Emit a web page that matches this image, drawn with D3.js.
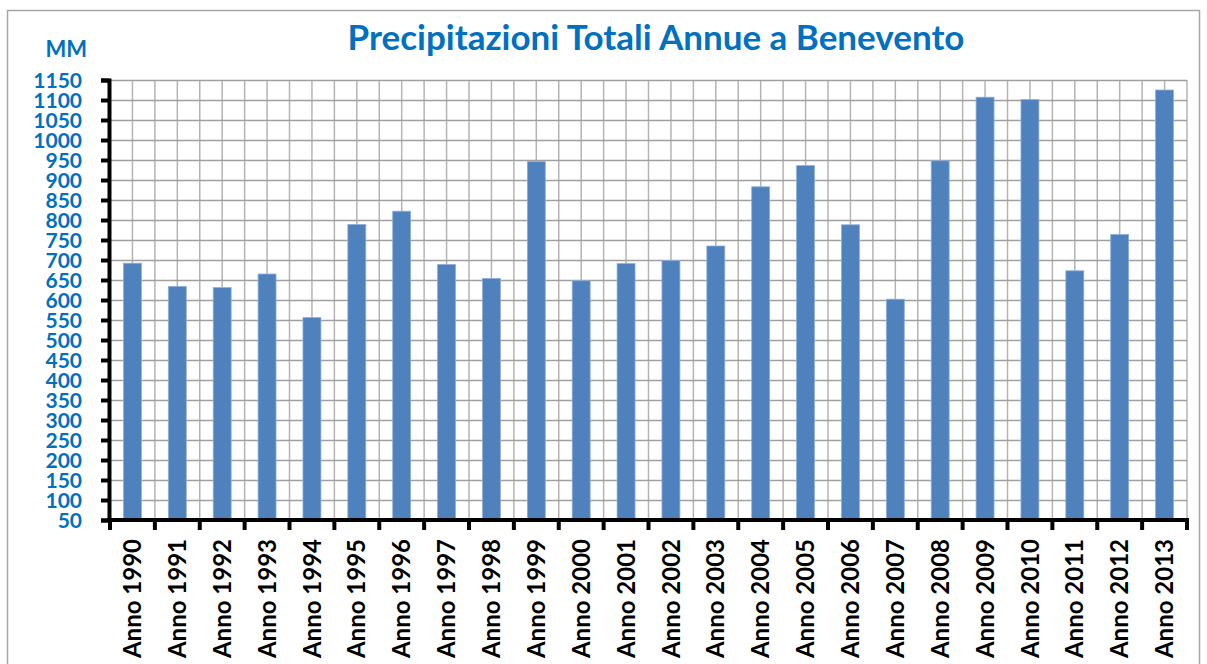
<!DOCTYPE html>
<html>
<head>
<meta charset="utf-8">
<script src="https://cdn.jsdelivr.net/npm/d3@7"></script>
<style>
  body { margin: 0; background: #fff; }
  svg text { font-family: Lato, "Open Sans", sans-serif; font-weight: bold; }
</style>
</head>
<body>
<div id="chart"></div>
<script>
// Chart data
const years = ["Anno 1990", "Anno 1991", "Anno 1992", "Anno 1993", "Anno 1994", "Anno 1995",
    "Anno 1996", "Anno 1997", "Anno 1998", "Anno 1999", "Anno 2000", "Anno 2001",
    "Anno 2002", "Anno 2003", "Anno 2004", "Anno 2005", "Anno 2006", "Anno 2007",
    "Anno 2008", "Anno 2009", "Anno 2010", "Anno 2011", "Anno 2012", "Anno 2013"];
const rainfall = [692, 634, 631, 665, 556, 789, 822, 689, 654, 946, 648, 691,
    699, 735, 883, 936, 788, 602, 948, 1107, 1101, 673, 764, 1125];
const yTicks = [50, 100, 150, 200, 250, 300, 350, 400, 450, 500, 550, 600,
    650, 700, 750, 800, 850, 900, 950, 1000, 1050, 1100, 1150];

const data = years.map((y, i) => ({ year: y, value: rainfall[i] }));

// Dimensions
const W = 1207, H = 664;
const plot = { left: 110, right: 1187, top: 80, bottom: 520 };

const svg = d3.select("#chart")
    .append("svg")
    .attr("width", W)
    .attr("height", H);

// Outer chart border
svg.append("rect")
    .attr("x", 7.5)
    .attr("y", 10.5)
    .attr("width", 1192)
    .attr("height", 670)
    .attr("fill", "none")
    .attr("stroke", "#a6a6a6")
    .attr("stroke-width", 1.5);

// Scales
const x = d3.scaleBand()
    .domain(years)
    .range([plot.left, plot.right])
    .padding(0);

const y = d3.scaleLinear()
    .domain([50, 1150])
    .range([plot.bottom, plot.top]);

const bw = x.bandwidth();

// Vertical grid lines (every half category)
const vLines = [];
years.forEach(d => { vLines.push(x(d)); vLines.push(x(d) + bw / 2); });
vLines.push(plot.right);

svg.append("g")
    .selectAll("line")
    .data(vLines)
    .enter()
    .append("line")
    .attr("x1", d => d)
    .attr("x2", d => d)
    .attr("y1", plot.top)
    .attr("y2", plot.bottom)
    .attr("stroke", "#b4b4b4")
    .attr("stroke-width", 1.5);

// Horizontal grid lines
svg.append("g")
    .attr("transform", `translate(${plot.left},0)`)
    .call(d3.axisLeft(y)
        .tickValues(yTicks)
        .tickSize(-(plot.right - plot.left))
        .tickFormat(""))
    .call(g => g.select(".domain").remove())
    .selectAll("line")
    .attr("stroke", "#a0a0a0")
    .attr("stroke-width", 1.5);

// Bars
svg.selectAll(".bar")
    .data(data)
    .enter()
    .append("rect")
    .attr("class", "bar")
    .attr("x", d => x(d.year) + bw * 0.3)
    .attr("width", bw * 0.4)
    .attr("y", d => y(d.value))
    .attr("height", d => y(50) - y(d.value))
    .attr("fill", "#4f81bd")
    .attr("stroke", "#8eb0db")
    .attr("stroke-width", 0.8);

// Y axis
const yAxis = svg.append("g")
    .attr("transform", `translate(${plot.left - 1},0)`)
    .call(d3.axisLeft(y)
        .tickValues(yTicks)
        .tickSize(8)
        .tickPadding(19)
        .tickFormat(d3.format("d")));

yAxis.select(".domain")
    .attr("stroke", "#000")
    .attr("stroke-width", 4);
yAxis.selectAll(".tick line")
    .attr("stroke", "#000")
    .attr("stroke-width", 4);
yAxis.selectAll(".tick text")
    .attr("fill", "#0070c0")
    .style("font-size", "21px")
    .attr("dy", "0.36em");

// X axis
const xTicks = years.map(d => x(d)).concat([plot.right]);
svg.append("line")
    .attr("x1", plot.left - 3)
    .attr("x2", plot.right + 2)
    .attr("y1", plot.bottom)
    .attr("y2", plot.bottom)
    .attr("stroke", "#000")
    .attr("stroke-width", 4);

svg.append("g")
    .selectAll("line")
    .data(xTicks)
    .enter()
    .append("line")
    .attr("x1", d => d)
    .attr("x2", d => d)
    .attr("y1", plot.bottom)
    .attr("y2", plot.bottom + 10)
    .attr("stroke", "#000")
    .attr("stroke-width", 4);

// X labels (rotated)
svg.append("g")
    .selectAll("text")
    .data(years)
    .enter()
    .append("text")
    .attr("transform", d => `translate(${x(d) + bw / 2},539) rotate(-90)`)
    .attr("text-anchor", "end")
    .attr("dy", "0.36em")
    .attr("fill", "#000")
    .style("font-size", "24px")
    .text(d => d);

// Unit label
svg.append("text")
    .attr("x", 87)
    .attr("y", 57)
    .attr("text-anchor", "end")
    .attr("fill", "#0070c0")
    .style("font-size", "22px")
    .text("MM");

// Title
svg.append("text")
    .attr("x", 656)
    .attr("y", 50)
    .attr("text-anchor", "middle")
    .attr("fill", "#0070c0")
    .style("font-size", "35px")
    .text("Precipitazioni Totali Annue a Benevento");
</script>
</body>
</html>
